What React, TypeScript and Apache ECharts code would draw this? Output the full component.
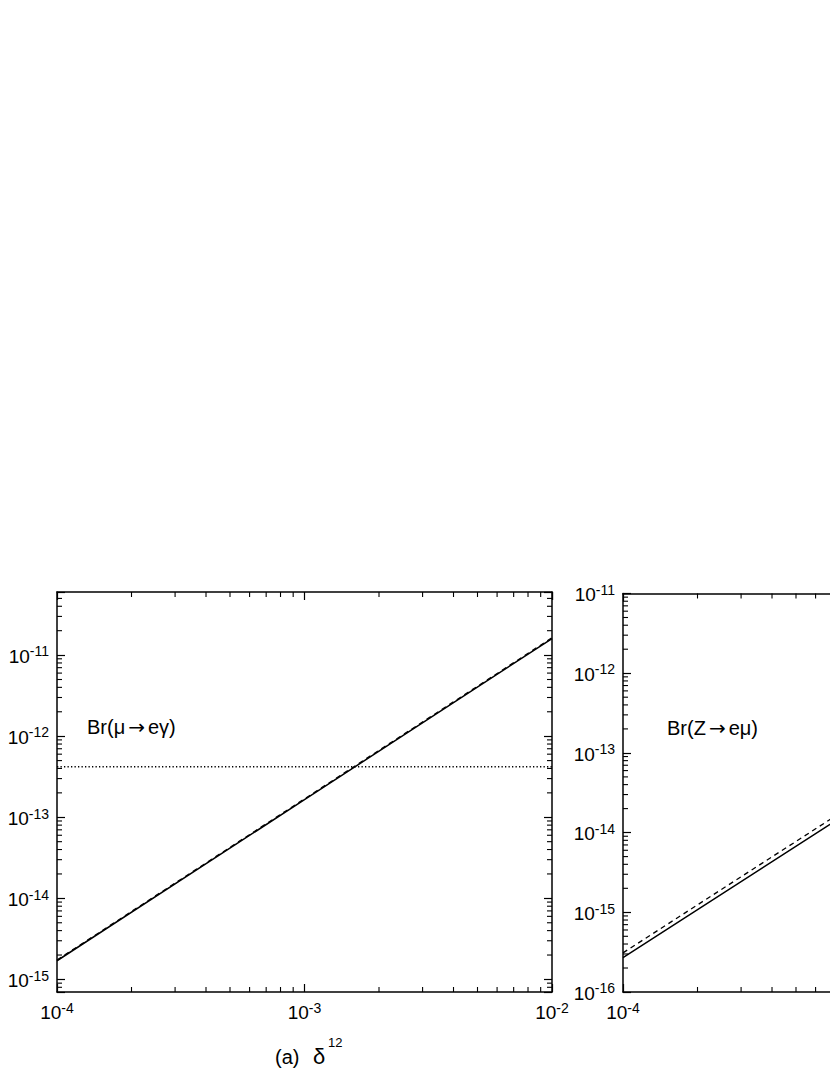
import React, { useEffect, useRef } from 'react';
import * as echarts from 'echarts';

const FONT = '"Liberation Sans", Arial, Helvetica, sans-serif';
const ARROW_FONT = '"DejaVu Sans", "Liberation Sans", sans-serif';

// shared x axis (delta^12)
const deltaRange = [1e-4, 1e-2];
const deltaPoints = [1e-4, 1e-3, 1e-2];

// panel (a): Br(mu -> e gamma)
const brMegRange = [7e-16, 6e-11];
const brMegSolid = [1.7e-15, 1.65e-13, 1.6e-11];
const brMegDashed = [1.74e-15, 1.69e-13, 1.64e-11];
const megLimit = 4.2e-13;

// panel (b): Br(Z -> e mu) (panel is cropped by the figure edge)
const brZemRange = [1e-16, 1e-11];
const brZemSolid = [2.7e-16, 2.7e-14, 2.7e-12];
const brZemDashed = [3.1e-16, 3.1e-14, 3.1e-12];
const brZemVisibleXLabels = [1e-4];

// log-axis minor tick multipliers
const minorMultipliers = [2, 3, 4, 5, 6, 7, 8, 9];

const BLACK = '#000';

const expLabel = (v: number) => {
  const e = Math.log10(v);
  const r = Math.round(e);
  if (Math.abs(e - r) > 1e-6) return '';
  return `{b|10}{s|${r}}`;
};

const onlyLabels = (list: number[]) => (v: number) =>
  list.some((w) => Math.abs(Math.log10(v) - Math.log10(w)) < 1e-6) ? expLabel(v) : '';

const labelRich = {
  b: { fontSize: 19, fontFamily: FONT, color: BLACK, verticalAlign: 'bottom' },
  s: { fontSize: 14, fontFamily: FONT, color: BLACK, verticalAlign: 'top' },
};

const zip = (xs: number[], ys: number[]) => xs.map((x, i) => [x, ys[i]]);

function logAxis(
  gridIndex: number,
  position: string,
  range: number[],
  labels: boolean,
  margin: number,
  formatter: (v: number) => string = expLabel
) {
  return {
    type: 'log',
    logBase: 10,
    gridIndex,
    position,
    min: range[0],
    max: range[1],
    splitLine: { show: false },
    axisLine: { show: true, onZero: false, lineStyle: { color: BLACK, width: 1.5 } },
    axisTick: { show: true, inside: true, length: 8, lineStyle: { color: BLACK, width: 1.2 } },
    minorTick: { show: false },
    axisLabel: labels
      ? {
          show: true,
          formatter,
          fontSize: 19,
          fontFamily: FONT,
          color: BLACK,
          lineHeight: 21.5,
          margin,
          rich: labelRich,
          showMinLabel: true,
          showMaxLabel: true,
          hideOverlap: false,
        }
      : { show: false },
  };
}

function minorTickData(xr: number[], yr: number[]) {
  const out: number[][] = [];
  const push = (lo: number, hi: number, cb: (v: number) => void) => {
    for (let d = Math.floor(Math.log10(lo)); d < Math.ceil(Math.log10(hi)); d++) {
      for (const m of minorMultipliers) {
        const v = m * Math.pow(10, d);
        if (v > lo * 1.0001 && v < hi * 0.9999) cb(v);
      }
    }
  };
  push(xr[0], xr[1], (v) => out.push([v, yr[0], 0]));
  push(yr[0], yr[1], (v) => out.push([xr[0], v, 1]));
  return out;
}

function minorTickSeries(axisIndex: number, xr: number[], yr: number[]) {
  const L = 5;
  const style = { stroke: BLACK, lineWidth: 1.1, fill: null };
  return {
    type: 'custom',
    xAxisIndex: axisIndex,
    yAxisIndex: axisIndex,
    silent: true,
    z: 5,
    dimensions: ['x', 'y', 'k'],
    encode: { x: 0, y: 1 },
    data: minorTickData(xr, yr),
    renderItem: (params: any, api: any) => {
      const kind = api.value(2);
      if (kind === 0) {
        const v = api.value(0);
        const p1 = api.coord([v, yr[0]]);
        const p2 = api.coord([v, yr[1]]);
        return {
          type: 'group',
          children: [
            { type: 'line', shape: { x1: p1[0], y1: p1[1], x2: p1[0], y2: p1[1] - L }, style },
            { type: 'line', shape: { x1: p2[0], y1: p2[1], x2: p2[0], y2: p2[1] + L }, style },
          ],
        };
      }
      const v = api.value(1);
      const p1 = api.coord([xr[0], v]);
      const p2 = api.coord([xr[1], v]);
      return {
        type: 'group',
        children: [
          { type: 'line', shape: { x1: p1[0], y1: p1[1], x2: p1[0] + L, y2: p1[1] }, style },
          { type: 'line', shape: { x1: p2[0], y1: p2[1], x2: p2[0] - L, y2: p2[1] }, style },
        ],
      };
    },
  };
}

function lineSeries(axisIndex: number, data: number[][], type: any, width: number) {
  return {
    type: 'line',
    xAxisIndex: axisIndex,
    yAxisIndex: axisIndex,
    data,
    showSymbol: false,
    symbol: 'none',
    silent: true,
    z: 3,
    lineStyle: { color: BLACK, width, type },
  };
}

export default function App() {
  const ref = useRef<HTMLDivElement>(null);

  useEffect(() => {
    if (!ref.current) return;
    const chart = echarts.init(ref.current, undefined, { renderer: 'svg' });
    const textStyle = (size: number) => ({
      fontSize: size,
      fontFamily: FONT,
      fill: BLACK,
      verticalAlign: 'middle',
      textVerticalAlign: 'middle',
      align: 'left',
      textAlign: 'left',
    });
    const titleRich = {
      t: { fontSize: 20, fontFamily: FONT, fill: BLACK, color: BLACK },
      a: { fontSize: 20, fontFamily: ARROW_FONT, fill: BLACK, color: BLACK, padding: [0, 3, 0, 3] },
    };
    chart.setOption({
      animation: false,
      backgroundColor: '#fff',
      grid: [
        { left: 57, top: 592, width: 495, height: 400, containLabel: false, outerBoundsMode: 'none' },
        { left: 623, top: 593.5, width: 495, height: 398.5, containLabel: false, outerBoundsMode: 'none' },
      ],
      xAxis: [
        logAxis(0, 'bottom', deltaRange, true, 8.5),
        logAxis(0, 'top', deltaRange, false, 0),
        logAxis(1, 'bottom', deltaRange, true, 8.5, onlyLabels(brZemVisibleXLabels)),
        logAxis(1, 'top', deltaRange, false, 0),
      ],
      yAxis: [
        logAxis(0, 'left', brMegRange, true, 8),
        logAxis(0, 'right', brMegRange, false, 0),
        logAxis(1, 'left', brZemRange, true, 8),
        logAxis(1, 'right', brZemRange, false, 0),
      ],
      series: [
        minorTickSeries(0, deltaRange, brMegRange),
        minorTickSeries(2, deltaRange, brZemRange),
        lineSeries(0, zip(deltaPoints, brMegSolid), 'solid', 1.5),
        lineSeries(0, zip(deltaPoints, brMegDashed), [5, 4], 1.2),
        lineSeries(0, [[deltaRange[0], megLimit], [deltaRange[1], megLimit]], [1.3, 2.2], 1.3),
        lineSeries(2, zip(deltaPoints, brZemSolid), 'solid', 1.5),
        lineSeries(2, zip(deltaPoints, brZemDashed), [5, 4], 1.3),
      ],
      graphic: [
        {
          type: 'text',
          x: 87,
          y: 726.5,
          style: { ...textStyle(20), text: '{t|Br(μ}{a|→}{t|eγ)}', rich: titleRich },
        },
        {
          type: 'text',
          x: 667,
          y: 728,
          style: { ...textStyle(20), text: '{t|Br(Z}{a|→}{t|eμ)}', rich: titleRich },
        },
        { type: 'text', x: 275, y: 1057, style: { ...textStyle(20), text: '(a)' } },
        { type: 'text', x: 313, y: 1056, style: { ...textStyle(22), text: 'δ' } },
        { type: 'text', x: 328, y: 1042.5, style: { ...textStyle(13), text: '12' } },
      ],
    });
    return () => chart.dispose();
  }, []);

  return (
    <div
      ref={ref}
      style={{ position: 'absolute', left: 0, top: 0, width: 830, height: 1075, background: '#fff' }}
    />
  );
}
